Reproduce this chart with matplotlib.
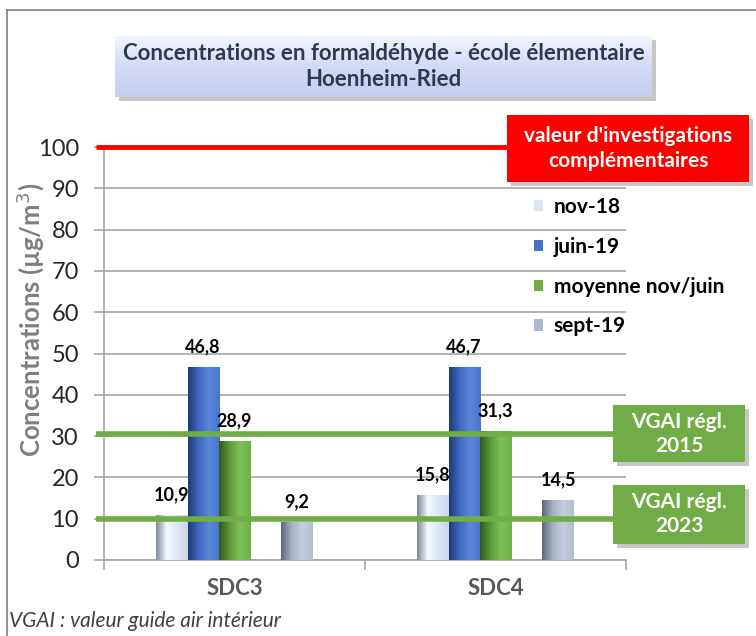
import numpy as np
import matplotlib
matplotlib.use("Agg")
import matplotlib.pyplot as plt
from matplotlib.colors import LinearSegmentedColormap
from matplotlib.patches import Rectangle
from matplotlib.lines import Line2D

plt.rcParams['font.family'] = ['Lato', 'DejaVu Sans']

# data
sites = ["SDC3", "SDC4"]
series = ["nov-18", "juin-19", "moyenne nov/juin", "sept-19"]
values = {
    "nov-18": [10.9, 15.8],
    "juin-19": [46.8, 46.7],
    "moyenne nov/juin": [28.9, 31.3],
    "sept-19": [9.2, 14.5],
}
slots = [-2, -1, 0, 2]  # slot 1 right of moyenne is left empty
flat_colors = ["#DCE6F2", "#4472C4", "#70AD47", "#ADB9CA"]
shades = [
    ["#7F8A99", "#F4F8FF", "#DCE6F6", "#C9D6EA"],
    ["#1F3A78", "#3E68C0", "#5B87DA", "#4A74CC"],
    ["#2F5A1E", "#5E9A3A", "#7EC157", "#6EB048"],
    ["#5E6878", "#A5B1C3", "#C4CEDD", "#B2BED0"],
]
ref_lines = [(100, "#FF0000", 3.5), (30.5, "#70AD47", 4), (10, "#70AD47", 4)]

W, H = 756, 636
fig = plt.figure(figsize=(W / 100, H / 100), dpi=100)

def fx(px):
    return px / W

def fy(py):
    return 1 - py / H

# outer frame (top and left sides visible)
fig.add_artist(Line2D([fx(7), 1.0], [fy(10), fy(10)], color="#7F7F7F", lw=1.2))
fig.add_artist(Line2D([fx(7), fx(7)], [fy(10), 0], color="#7F7F7F", lw=1.2))

ax = fig.add_axes([fx(104), fy(560), fx(626) - fx(104), fy(147) - fy(560)])
ax.set_xlim(-0.5, 1.5)
ax.set_ylim(0, 100)

bw = 0.12
x = np.arange(len(sites))
for i, name in enumerate(series):
    cmap = LinearSegmentedColormap.from_list(name, shades[i])
    grad = np.linspace(0, 1, 64).reshape(1, -1)
    bars = ax.bar(x + slots[i] * bw, values[name], width=bw, color=flat_colors[i],
                  label=name, zorder=3, linewidth=0)
    for b, v in zip(bars, values[name]):
        x0 = b.get_x()
        im = ax.imshow(grad, cmap=cmap, aspect="auto", zorder=3.5,
                       extent=(x0, x0 + bw, 0, v), interpolation="bilinear")
        im.set_clip_path(b)
        ax.text(x0 + bw / 2, v + 2.8, f"{v:.1f}".replace(".", ","), ha="center",
                va="bottom", fontsize=13, fontweight="bold", color="#000000", zorder=6)

# grid
ax.set_yticks(np.arange(0, 101, 10))
ax.yaxis.grid(True, color="#A6A6A6", lw=1.2, zorder=0)
ax.set_axisbelow(True)

# reference lines extending slightly outside the axes
for yv, col, lw in ref_lines:
    x_end = 1.0 if col == "#FF0000" else 1.03
    ax.plot([-0.016, x_end], [yv, yv], transform=ax.get_yaxis_transform(),
            color=col, lw=lw, clip_on=False, zorder=4, solid_capstyle="butt")

for s in ["top", "right"]:
    ax.spines[s].set_visible(False)
for s in ["left", "bottom"]:
    ax.spines[s].set_color("#A6A6A6")
    ax.spines[s].set_linewidth(1.2)

ax.tick_params(axis="y", colors="#A6A6A6", labelcolor="#262626", labelsize=17,
               length=7, width=1.2, pad=11)
ax.set_xticks([-0.5, 0.5, 1.5], minor=False)
ax.set_xticklabels([])
ax.tick_params(axis="x", which="major", colors="#A6A6A6", length=7, width=1.2)
ax.set_xticks(x, minor=True)
ax.set_xticklabels(sites, minor=True)
ax.tick_params(axis="x", which="minor", length=0, pad=13, labelsize=16,
               labelcolor="#595959")
for t in ax.get_xticklabels(minor=True):
    t.set_fontweight("bold")

fig.text(fx(30), fy(320), "Concentrations (µg/m$^3$)", rotation=90, ha="center",
         va="center", fontsize=18.5, fontweight="bold", color="#7F7F7F")

# legend
leg = ax.legend(loc="upper left", bbox_to_anchor=(fx(534), fy(197)),
                bbox_transform=fig.transFigure, frameon=False, ncol=1,
                handlelength=0.45, handleheight=0.45, handletextpad=0.5,
                labelspacing=0.95, borderpad=0, borderaxespad=0,
                prop={"size": 15, "weight": "bold"})
for t in leg.get_texts():
    t.set_color("#000000")

# boxes with a drop shadow
def shadow_box(x0, y0, x1, y1, face, z=10):
    sh = Rectangle((fx(x0 + 4), fy(y1 + 4)), fx(x1) - fx(x0), fy(y0) - fy(y1),
                   transform=fig.transFigure, facecolor="#9A9A9A", alpha=0.55,
                   edgecolor="none", zorder=z)
    fig.add_artist(sh)
    r = Rectangle((fx(x0), fy(y1)), fx(x1) - fx(x0), fy(y0) - fy(y1),
                  transform=fig.transFigure, facecolor=face, edgecolor="none",
                  zorder=z + 0.1)
    fig.add_artist(r)
    return r

shadow_box(115, 36, 652, 97, "#D6DCF4")
tax = fig.add_axes([fx(115), fy(97), fx(652) - fx(115), fy(36) - fy(97)], zorder=11)
tgrad = np.linspace(0, 1, 64).reshape(-1, 1)
tax.imshow(tgrad, cmap=LinearSegmentedColormap.from_list("t", ["#F2F4FC", "#D3DAF4", "#C6CEEE"]),
           aspect="auto", extent=(0, 1, 0, 1))
tax.set_axis_off()
tax.text(0.5, 0.5, "Concentrations en formaldéhyde - école élementaire\nHoenheim-Ried",
         ha="center", va="center", fontsize=16, fontweight="bold", color="#2E3A4C",
         linespacing=1.3, transform=tax.transAxes)

# red box
shadow_box(507, 115, 749, 182, "#FF0000")
fig.text(fx(628), fy(148.5), "valeur d'investigations\ncomplémentaires", ha="center",
         va="center", fontsize=15, fontweight="bold", color="white", linespacing=1.3,
         zorder=12)

# green boxes
for (y0, y1), txt in zip([(405, 462), (485, 544)], ["VGAI régl.\n2015", "VGAI régl.\n2023"]):
    shadow_box(613, y0, 745, y1, "#70AD47")
    fig.text(fx(679), fy((y0 + y1) / 2), txt, ha="center", va="center", fontsize=15,
             fontweight="bold", color="white", linespacing=1.25, zorder=12)

fig.text(fx(9), fy(621), "VGAI : valeur guide air intérieur", ha="left", va="center",
         fontsize=15, fontstyle="italic", color="#404040")

fig.savefig("out.png", dpi=100, facecolor="white")
